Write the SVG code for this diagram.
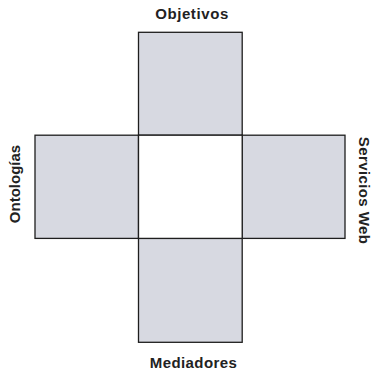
<svg xmlns="http://www.w3.org/2000/svg" width="374" height="371" viewBox="0 0 374 371">
<style>
.box{fill:#d7d9e1;stroke:#1e1e1e;stroke-width:1.3}
.ctr{fill:#ffffff;stroke:#1e1e1e;stroke-width:1.3}
.lbl{font-family:"Liberation Sans",Arial,sans-serif;font-weight:bold;font-size:15px;fill:#222222;text-anchor:middle}
</style>
<rect width="374" height="371" fill="#ffffff"/>
<g id="objetivos">
<rect class="box" x="138.5" y="32.3" width="103.7" height="102.9"/>
<text class="lbl" x="192" y="19" letter-spacing="0.6">Objetivos</text>
</g>
<g id="ontologias">
<rect class="box" x="35" y="135.2" width="103.5" height="103.2"/>
<text class="lbl" transform="translate(19.5,184) rotate(-90)">Ontologías</text>
</g>
<g id="servicios">
<rect class="box" x="242.2" y="135.2" width="102.8" height="103.2"/>
<text class="lbl" transform="translate(359,190.5) rotate(90)" letter-spacing="0.4">Servicios Web</text>
</g>
<g id="mediadores">
<rect class="box" x="138.5" y="238.4" width="103.7" height="103.9"/>
<text class="lbl" x="193.5" y="367.5" letter-spacing="0.4">Mediadores</text>
</g>
<g id="centro">
<rect class="ctr" x="138.5" y="135.2" width="103.7" height="103.2"/>
</g>
<g id="connectors"></g>
</svg>
